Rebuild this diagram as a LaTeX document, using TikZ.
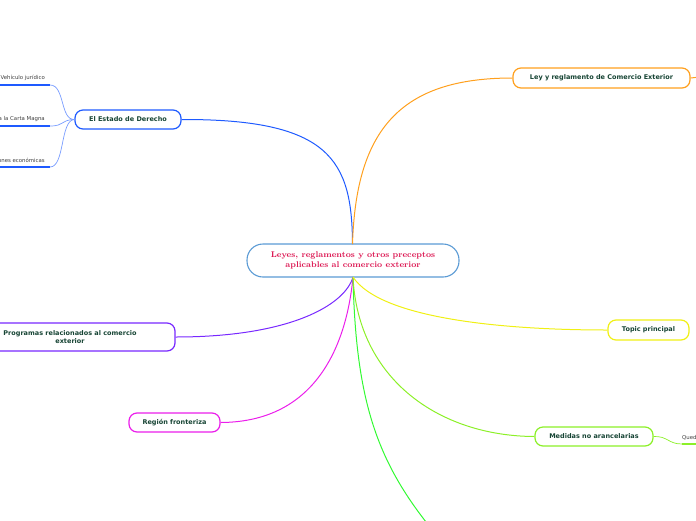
\documentclass[tikz,border=0pt]{standalone}
\usepackage{fontspec}
\newfontfamily\nodefont{DejaVu Sans}
\definecolor{txt}{RGB}{22,68,52}
\definecolor{central}{RGB}{91,155,213}
\definecolor{ctext}{RGB}{220,20,80}
\definecolor{cblue}{RGB}{30,90,255}
\definecolor{corange}{RGB}{255,160,30}
\definecolor{cpurple}{RGB}{120,40,255}
\definecolor{cmagenta}{RGB}{235,30,235}
\definecolor{cyellow}{RGB}{240,240,20}
\definecolor{clime}{RGB}{140,240,40}
\definecolor{cgreen}{RGB}{50,250,50}
\tikzset{
  topicbox/.style={draw=#1, line width=1.2pt, rounded corners=8pt, fill=white,
    font=\nodefont\bfseries\fontsize{6.5}{8}\selectfont, text=txt, align=center, inner sep=0pt},
  leaftext/.style={font=\nodefont\fontsize{5.4}{6}\selectfont, text=black!75, inner sep=0pt},
  conn/.style={draw=#1, line width=1pt},
  under/.style={draw=#1, line width=1.5pt}
}
\begin{document}
\begin{tikzpicture}[x=1pt,y=-1pt]
\useasboundingbox (0,0) rectangle (696,520);
\clip (0,0) rectangle (696,520);
% central
\node[draw=central, line width=1.1pt, rounded corners=16pt, fill=white, minimum width=212pt, minimum height=33pt,
  font=\bfseries\fontsize{8.3}{9.8}\selectfont, text=ctext, align=center, inner sep=0pt] (c) at (353,260.5)
  {Leyes, reglamentos y otros preceptos\\aplicables al comercio exterior};
\coordinate (ct) at (352.5,244);
\coordinate (cb) at (353,277);
% topics
\node[topicbox=cblue, minimum width=106pt, minimum height=19pt] (est) at (128,119.5) {El Estado de Derecho};
\node[topicbox=corange, minimum width=177pt, minimum height=20pt] (ley) at (601.5,78) {Ley y reglamento de Comercio Exterior};
\node[topicbox=cpurple, minimum width=210pt, minimum height=28pt] (prog) at (70,337) {Programas relacionados al comercio\\exterior};
\node[topicbox=cmagenta, minimum width=91pt, minimum height=19pt] (reg) at (174.5,422.5) {Región fronteriza};
\node[topicbox=cyellow, minimum width=81pt, minimum height=20pt] (top) at (648.5,330) {Topic principal};
\node[topicbox=clime, minimum width=118pt, minimum height=19pt] (med) at (594,436.5) {Medidas no arancelarias};
% connectors from center
\draw[conn=cblue] (est.east) .. controls (330,119) and (352,160) .. (ct);
\draw[conn=corange] (ct) .. controls (356,130) and (400,78) .. (ley.west);
\draw[conn=cpurple] (prog.east) .. controls (290,337) and (345,305) .. (cb);
\draw[conn=cmagenta] (reg.east) .. controls (325,422) and (348,330) .. (cb);
\coordinate (gend) at (445,545);
\draw[conn=cgreen] (cb) .. controls (356,410) and (380,470) .. (gend);
\draw[conn=clime] (cb) .. controls (358,380) and (440,436) .. (med.west);
\draw[conn=cyellow] (cb) .. controls (380,318) and (500,330) .. (top.west);
% Ley child stub
\coordinate (leyc) at (700,77);
\draw[conn=corange] (ley.east) -- (leyc);
% Estado leaves
\node[leaftext, anchor=south east] (l1) at (45,81) {Vehículo jurídico};
\node[leaftext, anchor=south east] (l2) at (45,122) {a la Carta Magna};
\node[leaftext, anchor=south east] (l3) at (45,163) {ones económicas};
\coordinate (u1a) at (0,85); \coordinate (u1b) at (50,85);
\coordinate (u2a) at (0,126); \coordinate (u2b) at (50,126);
\coordinate (u3a) at (0,167); \coordinate (u3b) at (50,167);
\draw[under=cblue] (u1a) -- (u1b);
\draw[under=cblue] (u2a) -- (u2b);
\draw[under=cblue] (u3a) -- (u3b);
\draw[conn=cblue!60, line width=0.7pt] (est.west) .. controls (60,120) and (65,85) .. (u1b);
\draw[conn=cblue!60, line width=0.7pt] (est.west) .. controls (60,120) and (65,126) .. (u2b);
\draw[conn=cblue!60, line width=0.7pt] (est.west) .. controls (60,120) and (65,167) .. (u3b);
% Medidas leaf
\node[leaftext, anchor=south west] (q1) at (682,440) {Queda};
\coordinate (qa) at (682,444); \coordinate (qb) at (700,444);
\draw[under=clime] (qa) -- (qb);
\draw[conn=clime, line width=0.7pt] (med.east) .. controls (668,436) and (668,444) .. (qa);
\end{tikzpicture}
\end{document}
